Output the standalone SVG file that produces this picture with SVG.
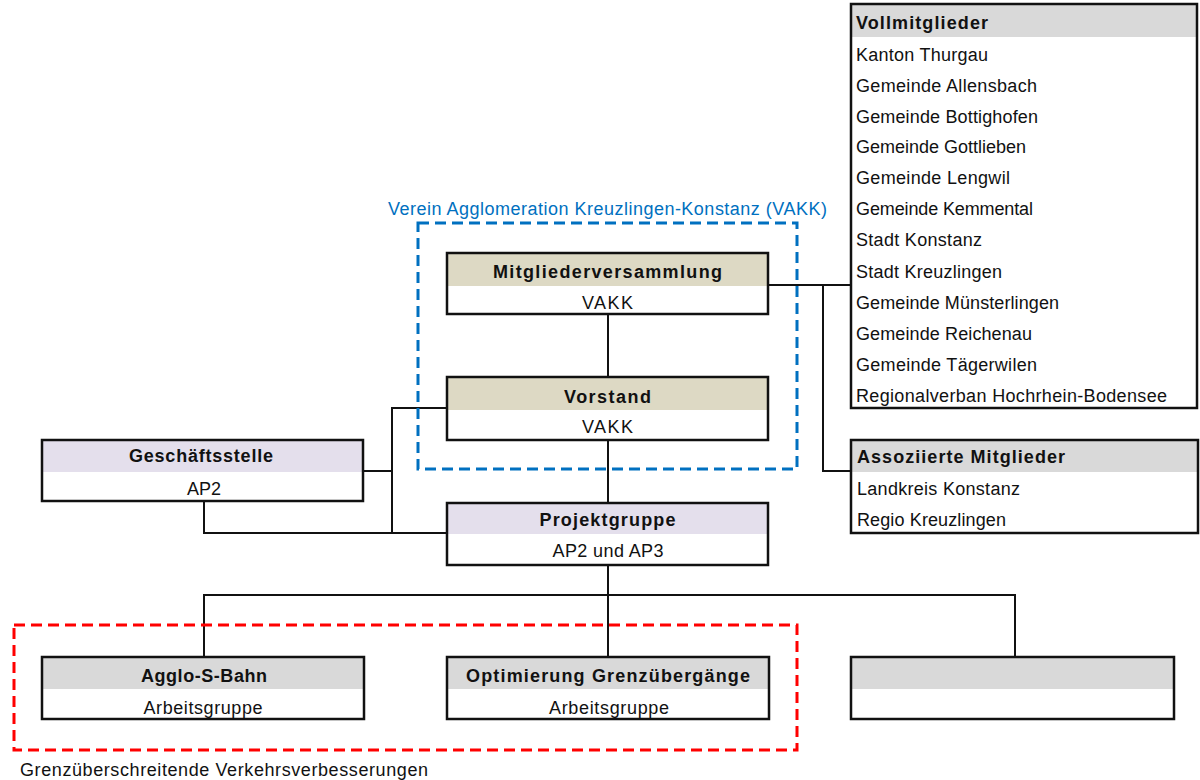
<svg xmlns="http://www.w3.org/2000/svg" width="1200" height="780" viewBox="0 0 1200 780">
<style>
text{font-family:"Liberation Sans",Arial,sans-serif;font-size:18px;fill:#111}
.b{font-weight:bold}
.c{text-anchor:middle}
.frame{fill:none;stroke:#111;stroke-width:2.5}
.hb{fill:#DDD9C4}
.hl{fill:#E4DFEC}
.hg{fill:#D9D9D9}
.body{fill:#fff}
.conn line,.conn polyline{stroke:#111;stroke-width:2;fill:none}
</style>
<rect width="1200" height="780" fill="#fff"/>

<g id="connectors" class="conn">
<line x1="608" y1="314" x2="608" y2="377"/>
<line x1="608" y1="440" x2="608" y2="503"/>
<line x1="608" y1="565" x2="608" y2="595"/>
<polyline points="204,657 204,595 1015,595 1015,657"/>
<line x1="608" y1="595" x2="608" y2="657"/>
<polyline points="447,408 392,408 392,533"/>
<line x1="363" y1="471" x2="392" y2="471"/>
<polyline points="204,501 204,533 447,533"/>
<line x1="768" y1="285" x2="851" y2="285"/>
<polyline points="823,285 823,471 851,471"/>
</g>

<g id="vakk-frame">
<rect x="418" y="223" width="379" height="246" fill="none" stroke="#0070C0" stroke-width="3" stroke-dasharray="11 6"/>
<text x="388" y="215" textLength="439" lengthAdjust="spacing" style="fill:#0070C0">Verein Agglomeration Kreuzlingen-Konstanz (VAKK)</text>
</g>

<g id="gv-frame">
<rect x="14" y="625" width="783" height="125" fill="none" stroke="#FF0000" stroke-width="3" stroke-dasharray="11 6"/>
<text x="20" y="776" textLength="408" lengthAdjust="spacing">Grenzüberschreitende Verkehrsverbesserungen</text>
</g>

<g id="mitgliederversammlung">
<rect class="body" x="447" y="253" width="321" height="61"/>
<rect class="hb" x="447" y="253" width="321" height="33"/>
<rect class="frame" x="447" y="253" width="321" height="61"/>
<text class="b c" x="607.5" y="278" textLength="229" lengthAdjust="spacing">Mitgliederversammlung</text>
<text class="c" x="607.5" y="309" textLength="51" lengthAdjust="spacing">VAKK</text>
</g>

<g id="vorstand">
<rect class="body" x="447" y="377" width="321" height="63"/>
<rect class="hb" x="447" y="377" width="321" height="33"/>
<rect class="frame" x="447" y="377" width="321" height="63"/>
<text class="b c" x="607.5" y="403" textLength="87" lengthAdjust="spacing">Vorstand</text>
<text class="c" x="607.5" y="433" textLength="51" lengthAdjust="spacing">VAKK</text>
</g>

<g id="geschaeftsstelle">
<rect class="body" x="42" y="440" width="321" height="61"/>
<rect class="hl" x="42" y="440" width="321" height="32"/>
<rect class="frame" x="42" y="440" width="321" height="61"/>
<text class="b c" x="201" y="462" textLength="144" lengthAdjust="spacing">Geschäftsstelle</text>
<text class="c" x="204" y="495">AP2</text>
</g>

<g id="projektgruppe">
<rect class="body" x="447" y="503" width="321" height="62"/>
<rect class="hl" x="447" y="503" width="321" height="31"/>
<rect class="frame" x="447" y="503" width="321" height="62"/>
<text class="b c" x="607.5" y="526" textLength="136" lengthAdjust="spacing">Projektgruppe</text>
<text class="c" x="608" y="557" textLength="111" lengthAdjust="spacing">AP2 und AP3</text>
</g>

<g id="agglo-s-bahn">
<rect class="body" x="42" y="657" width="322" height="62"/>
<rect class="hg" x="42" y="657" width="322" height="32"/>
<rect class="frame" x="42" y="657" width="322" height="62"/>
<text class="b c" x="204" y="682" textLength="126" lengthAdjust="spacing">Agglo-S-Bahn</text>
<text class="c" x="203" y="714" textLength="119" lengthAdjust="spacing">Arbeitsgruppe</text>
</g>

<g id="optimierung">
<rect class="body" x="447" y="657" width="322" height="62"/>
<rect class="hg" x="447" y="657" width="322" height="32"/>
<rect class="frame" x="447" y="657" width="322" height="62"/>
<text class="b c" x="608" y="682" textLength="284" lengthAdjust="spacing">Optimierung Grenzübergänge</text>
<text class="c" x="609" y="714" textLength="120" lengthAdjust="spacing">Arbeitsgruppe</text>
</g>

<g id="leer">
<rect class="body" x="851" y="657" width="323" height="62"/>
<rect class="hg" x="851" y="657" width="323" height="32"/>
<rect class="frame" x="851" y="657" width="323" height="62"/>
</g>

<g id="vollmitglieder">
<rect class="body" x="851" y="4" width="346" height="404"/>
<rect class="hg" x="851" y="4" width="346" height="33"/>
<rect class="frame" x="851" y="4" width="346" height="404"/>
<text class="b" x="856" y="29" textLength="132" lengthAdjust="spacing">Vollmitglieder</text>
<text x="856" y="61" textLength="132" lengthAdjust="spacing">Kanton Thurgau</text>
<text x="856" y="92" textLength="181" lengthAdjust="spacing">Gemeinde Allensbach</text>
<text x="856" y="123" textLength="182" lengthAdjust="spacing">Gemeinde Bottighofen</text>
<text x="856" y="153" textLength="170" lengthAdjust="spacing">Gemeinde Gottlieben</text>
<text x="856" y="184" textLength="154" lengthAdjust="spacing">Gemeinde Lengwil</text>
<text x="856" y="215" textLength="177" lengthAdjust="spacing">Gemeinde Kemmental</text>
<text x="856" y="246" textLength="126" lengthAdjust="spacing">Stadt Konstanz</text>
<text x="856" y="278" textLength="146" lengthAdjust="spacing">Stadt Kreuzlingen</text>
<text x="856" y="309" textLength="203" lengthAdjust="spacing">Gemeinde Münsterlingen</text>
<text x="856" y="340" textLength="176" lengthAdjust="spacing">Gemeinde Reichenau</text>
<text x="856" y="371" textLength="181" lengthAdjust="spacing">Gemeinde Tägerwilen</text>
<text x="856" y="402" textLength="311" lengthAdjust="spacing">Regionalverban Hochrhein-Bodensee</text>
</g>

<g id="assoziierte">
<rect class="body" x="851" y="440" width="347" height="93"/>
<rect class="hg" x="851" y="440" width="347" height="32"/>
<rect class="frame" x="851" y="440" width="347" height="93"/>
<text class="b" x="857" y="463" textLength="208" lengthAdjust="spacing">Assoziierte Mitglieder</text>
<text x="857" y="495" textLength="163" lengthAdjust="spacing">Landkreis Konstanz</text>
<text x="857" y="526" textLength="149" lengthAdjust="spacing">Regio Kreuzlingen</text>
</g>
</svg>
